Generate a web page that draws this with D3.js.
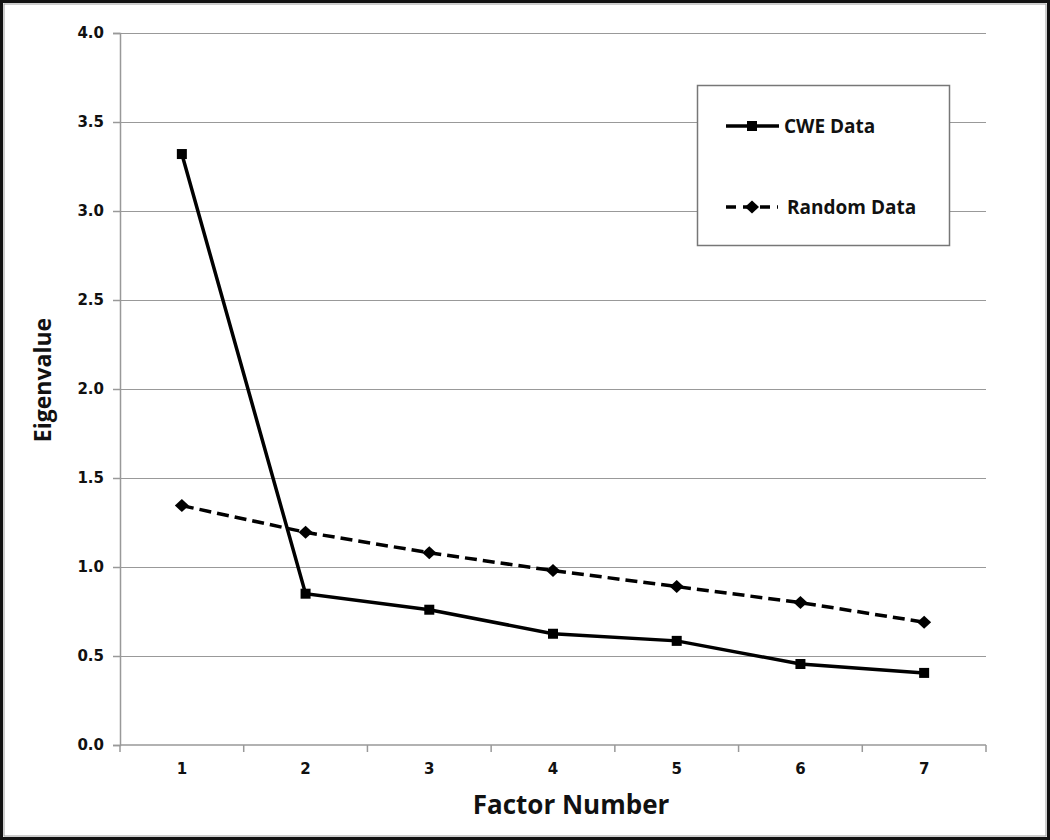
<!DOCTYPE html>
<html>
<head>
<meta charset="utf-8">
<script src="https://d3js.org/d3.v7.min.js"></script>
<style>
  body { margin: 0; background: #fff; }
  svg text { fill: #111; }
</style>
</head>
<body>
<div id="chart"></div>
<script>
// data
const factors = ["1", "2", "3", "4", "5", "6", "7"];
const cweData = [3.32, 0.85, 0.76, 0.625, 0.585, 0.455, 0.405];
const randomData = [1.345, 1.195, 1.08, 0.98, 0.89, 0.80, 0.69];
const yTicks = [0, 0.5, 1.0, 1.5, 2.0, 2.5, 3.0, 3.5, 4.0];
const seriesNames = ["CWE Data", "Random Data"];

const w = 1050, h = 840;
const plotLeft = 120, plotRight = 986, plotTop = 33, plotBottom = 745;

const svg = d3.select("#chart").append("svg")
  .attr("width", w)
  .attr("height", h);

// outer frame
svg.append("rect")
  .attr("x", 1.5).attr("y", 1.5)
  .attr("width", w - 3).attr("height", h - 3)
  .attr("fill", "#fff")
  .attr("stroke", "#111")
  .attr("stroke-width", 3);
svg.append("rect")
  .attr("x", 4).attr("y", 4)
  .attr("width", w - 8).attr("height", h - 8)
  .attr("fill", "none")
  .attr("stroke", "#999")
  .attr("stroke-width", 1);

const xScale = d3.scaleBand().domain(factors).range([plotLeft, plotRight]);
const yScale = d3.scaleLinear().domain([0, 4]).range([plotBottom, plotTop]);
const cx = d => xScale(d) + xScale.bandwidth() / 2;

// gridlines
svg.append("g")
  .selectAll("line")
  .data(yTicks.filter(v => v > 0))
  .enter().append("line")
  .attr("x1", plotLeft).attr("x2", plotRight)
  .attr("y1", d => Math.round(yScale(d)) + 0.5)
  .attr("y2", d => Math.round(yScale(d)) + 0.5)
  .attr("stroke", "#999")
  .attr("stroke-width", 1.2);

// y axis
const yAxis = d3.axisLeft(yScale)
  .tickValues(yTicks)
  .tickFormat(d3.format(".1f"))
  .tickSize(7)
  .tickPadding(9);
const gy = svg.append("g")
  .attr("transform", "translate(" + plotLeft + ",0)")
  .call(yAxis);
gy.select(".domain").attr("stroke", "#999").attr("stroke-width", 1.5);
gy.selectAll(".tick line").attr("stroke", "#999").attr("stroke-width", 1.5);
gy.selectAll(".tick text")
  .style("font-family", "DejaVu Sans")
  .style("font-weight", "bold")
  .style("font-size", "15px")
  .attr("fill", "#111");

// x axis with ticks on category boundaries
const gx = svg.append("g")
  .attr("transform", "translate(0," + plotBottom + ")");
gx.append("line")
  .attr("x1", plotLeft).attr("x2", plotRight)
  .attr("stroke", "#999").attr("stroke-width", 1.5);
gx.selectAll(".bound")
  .data(factors.concat(["end"]))
  .enter().append("line")
  .attr("x1", (d, i) => plotLeft + i * xScale.bandwidth())
  .attr("x2", (d, i) => plotLeft + i * xScale.bandwidth())
  .attr("y1", 0).attr("y2", 7)
  .attr("stroke", "#999").attr("stroke-width", 1.5);
gx.selectAll("text")
  .data(factors)
  .enter().append("text")
  .attr("x", d => cx(d))
  .attr("y", 29)
  .attr("text-anchor", "middle")
  .style("font-family", "DejaVu Sans")
  .style("font-weight", "bold")
  .style("font-size", "15px")
  .text(d => d);

// axis titles
svg.append("text")
  .attr("x", cx("4") + 18)
  .attr("y", 814)
  .attr("text-anchor", "middle")
  .style("font-family", "Open Sans")
  .style("font-weight", "bold")
  .style("font-size", "26px")
  .text("Factor Number");

svg.append("text")
  .attr("transform", "translate(51,380) rotate(-90)")
  .attr("text-anchor", "middle")
  .style("font-family", "Open Sans")
  .style("font-weight", "bold")
  .style("font-size", "23px")
  .text("Eigenvalue");

// lines
const line = d3.line()
  .x((d, i) => cx(factors[i]))
  .y(d => yScale(d));

svg.append("path")
  .datum(randomData)
  .attr("fill", "none")
  .attr("stroke", "#000")
  .attr("stroke-width", 3.5)
  .attr("stroke-dasharray", "12,6")
  .attr("d", line);

svg.append("path")
  .datum(cweData)
  .attr("fill", "none")
  .attr("stroke", "#000")
  .attr("stroke-width", 3.5)
  .attr("d", line);

// markers
svg.selectAll(".sq")
  .data(cweData)
  .enter().append("rect")
  .attr("x", (d, i) => cx(factors[i]) - 5)
  .attr("y", d => yScale(d) - 5)
  .attr("width", 10).attr("height", 10)
  .attr("fill", "#000");

const diamond = "M0,-6.5L7,0L0,6.5L-7,0Z";
svg.selectAll(".dm")
  .data(randomData)
  .enter().append("path")
  .attr("d", diamond)
  .attr("transform", (d, i) => "translate(" + cx(factors[i]) + "," + yScale(d) + ")")
  .attr("fill", "#000");

// legend
const lg = svg.append("g");
lg.append("rect")
  .attr("x", 697.5).attr("y", 85.5)
  .attr("width", 252).attr("height", 160)
  .attr("fill", "#fff")
  .attr("stroke", "#777")
  .attr("stroke-width", 1.5);

const rows = [126, 207];
lg.append("line")
  .attr("x1", 726).attr("x2", 779)
  .attr("y1", rows[0]).attr("y2", rows[0])
  .attr("stroke", "#000").attr("stroke-width", 3.5);
lg.append("rect")
  .attr("x", 747).attr("y", rows[0] - 5)
  .attr("width", 10).attr("height", 10)
  .attr("fill", "#000");
lg.append("line")
  .attr("x1", 726).attr("x2", 778)
  .attr("y1", rows[1]).attr("y2", rows[1])
  .attr("stroke", "#000").attr("stroke-width", 3.5)
  .attr("stroke-dasharray", "10,7");
lg.append("path")
  .attr("d", diamond)
  .attr("transform", "translate(752," + rows[1] + ")")
  .attr("fill", "#000");

lg.selectAll(".lt")
  .data(seriesNames)
  .enter().append("text")
  .attr("x", (d, i) => i === 0 ? 784 : 787)
  .attr("y", (d, i) => rows[i] + 7)
  .style("font-family", "Open Sans")
  .style("font-weight", "bold")
  .style("font-size", "19px")
  .text(d => d);
</script>
</body>
</html>
